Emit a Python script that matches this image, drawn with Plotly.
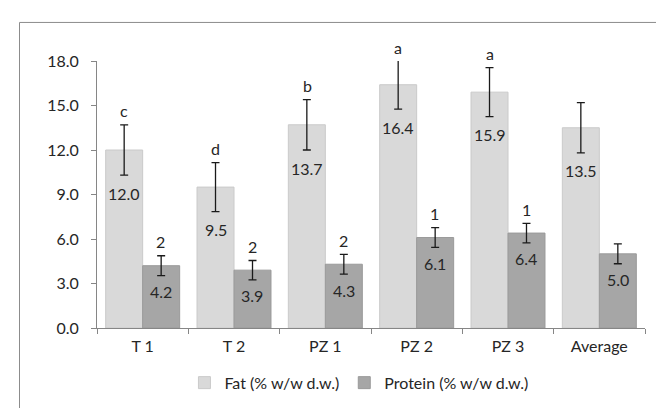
import plotly.graph_objects as go

categories = ["T 1", "T 2", "PZ 1", "PZ 2", "PZ 3", "Average"]
fat = [12.0, 9.5, 13.7, 16.4, 15.9, 13.5]
fat_err = [1.7, 1.65, 1.7, 1.65, 1.65, 1.7]
fat_letters = ["c", "d", "b", "a", "a", ""]
protein = [4.2, 3.9, 4.3, 6.1, 6.4, 5.0]
protein_err = [0.67, 0.65, 0.67, 0.67, 0.66, 0.67]
protein_letters = ["2", "2", "2", "1", "1", ""]
y_ticks = [0, 3, 6, 9, 12, 15, 18]

FONT = "Lato"
TXT = "#262626"
AX = "#868686"
Y_MAX = 18

fig = go.Figure()
fig.add_trace(go.Bar(
    x=categories, y=fat, name="Fat (% w/w d.w.)",
    marker=dict(color="#d9d9d9", line=dict(color="#cacaca", width=1)),
    error_y=dict(type="data", array=fat_err, color="#1a1a1a", thickness=1.3, width=4),
))
fig.add_trace(go.Bar(
    x=categories, y=protein, name="Protein (% w/w d.w.)",
    marker=dict(color="#a6a6a6", line=dict(color="#9a9a9a", width=1)),
    error_y=dict(type="data", array=protein_err, color="#1a1a1a", thickness=1.3, width=4),
))

annotations = []
series = [(fat, fat_err, fat_letters, -0.2, -18), (protein, protein_err, protein_letters, 0.2, -16)]
for vals, errs, letters, off, shift in series:
    for i, (v, e, l) in enumerate(zip(vals, errs, letters)):
        top = min(v + e, Y_MAX)
        annotations.append(dict(x=i + off, y=v - e, xref="x", yref="y", text=f"{v:.1f}",
                                showarrow=False, yanchor="middle", yshift=shift,
                                font=dict(family=FONT, size=16, color=TXT)))
        if l:
            annotations.append(dict(x=i + off, y=top, xref="x", yref="y", text=l,
                                    showarrow=False, yanchor="middle", yshift=14,
                                    font=dict(family=FONT, size=16, color=TXT)))

fig.update_layout(
    width=664, height=408,
    margin=dict(l=89, r=27, t=53, b=88),
    paper_bgcolor="white", plot_bgcolor="white",
    barmode="group", bargap=0.19, bargroupgap=0,
    font=dict(family=FONT, size=16, color=TXT),
    showlegend=True,
    legend=dict(orientation="h", x=0.478, xanchor="center", y=-0.205, yanchor="middle",
                font=dict(family=FONT, size=16, color=TXT), itemwidth=30),
    annotations=annotations,
    shapes=[dict(type="rect", xref="paper", yref="paper", x0=-0.1414, x1=1.2,
                 y0=-0.5, y1=1.1444, line=dict(color="#8c8c8c", width=1), layer="below")],
)
fig.update_xaxes(type="category", showline=True, linecolor=AX, ticks="outside",
                 tickson="boundaries", ticklen=5, tickcolor=AX, showgrid=False,
                 ticklabelstandoff=4,
                 tickfont=dict(family=FONT, size=16, color=TXT))
fig.update_yaxes(range=[0, Y_MAX], tickvals=y_ticks, tickformat=".1f", showline=True,
                 linecolor=AX, ticks="outside", ticklen=5, tickcolor=AX, showgrid=False,
                 zeroline=False, ticklabelstandoff=9,
                 tickfont=dict(family=FONT, size=16, color=TXT))

fig.write_html("out.html")
